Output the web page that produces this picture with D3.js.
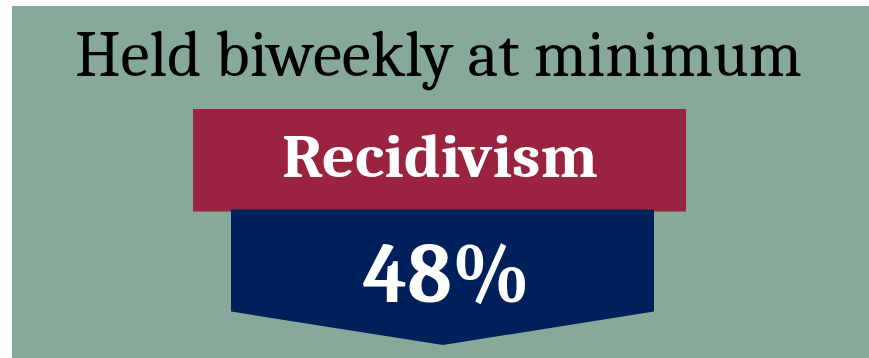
<!DOCTYPE html>
<html>
<head>
<meta charset="utf-8">
<script src="https://cdn.jsdelivr.net/npm/d3@7"></script>
<style>
  html, body { margin: 0; padding: 0; background: #ffffff; }
  svg { display: block; }
</style>
</head>
<body>
<div id="chart"></div>
<script>
// Headline, metric name and its value
const headline = ["Held biweekly at minimum"];
const metricNames = ["Recidivism"];
const metricValues = [48];

const W = 869, H = 358;
const colors = { bg: "#86a99a", label: "#9a2440", value: "#00205b" };
const serif = "Cambria, 'Liberation Serif', 'DejaVu Serif', serif";

const svg = d3.select("#chart").append("svg")
  .attr("width", W).attr("height", H);

// panel background
svg.append("rect")
  .attr("x", 12).attr("y", 6)
  .attr("width", W - 12).attr("height", H - 6)
  .attr("fill", colors.bg);

// headline
svg.selectAll("text.headline").data(headline).join("text")
  .attr("class", "headline")
  .attr("x", 438.5).attr("y", 76)
  .attr("text-anchor", "middle")
  .attr("font-family", serif)
  .attr("font-size", 65)
  .attr("textLength", 727)
  .attr("lengthAdjust", "spacingAndGlyphs")
  .attr("fill", "#000")
  .text(d => d);

// metric name banner
const banner = { x0: 193, x1: 686, y0: 109, y1: 211.5 };
svg.append("rect")
  .attr("x", banner.x0).attr("y", banner.y0)
  .attr("width", banner.x1 - banner.x0).attr("height", banner.y1 - banner.y0)
  .attr("fill", colors.label);

svg.selectAll("text.metric").data(metricNames).join("text")
  .attr("class", "metric")
  .attr("x", 440).attr("y", 177)
  .attr("text-anchor", "middle")
  .attr("font-family", serif)
  .attr("font-weight", "bold")
  .attr("font-size", 60)
  .attr("textLength", 316)
  .attr("lengthAdjust", "spacingAndGlyphs")
  .attr("fill", "#fff")
  .text(d => d);

// value chevron (pointing down)
const chev = { x0: 231, x1: 654, y0: 209.5, yside: 311.5, ytip: 345, xtip: 443 };
const chevPts = [
  [chev.x0, chev.y0], [chev.x1, chev.y0], [chev.x1, chev.yside],
  [chev.xtip, chev.ytip], [chev.x0, chev.yside]
];
svg.append("path")
  .attr("d", d3.line()(chevPts) + "Z")
  .attr("fill", colors.value);

const fmt = d => d3.format("d")(d) + "%";
svg.selectAll("text.value").data(metricValues).join("text")
  .attr("class", "value")
  .attr("x", 446.5).attr("y", 302)
  .attr("text-anchor", "middle")
  .attr("font-family", serif)
  .attr("font-weight", "bold")
  .attr("font-size", 86)
  .attr("textLength", 167)
  .attr("lengthAdjust", "spacingAndGlyphs")
  .attr("fill", "#fff")
  .text(fmt);
</script>
</body>
</html>
